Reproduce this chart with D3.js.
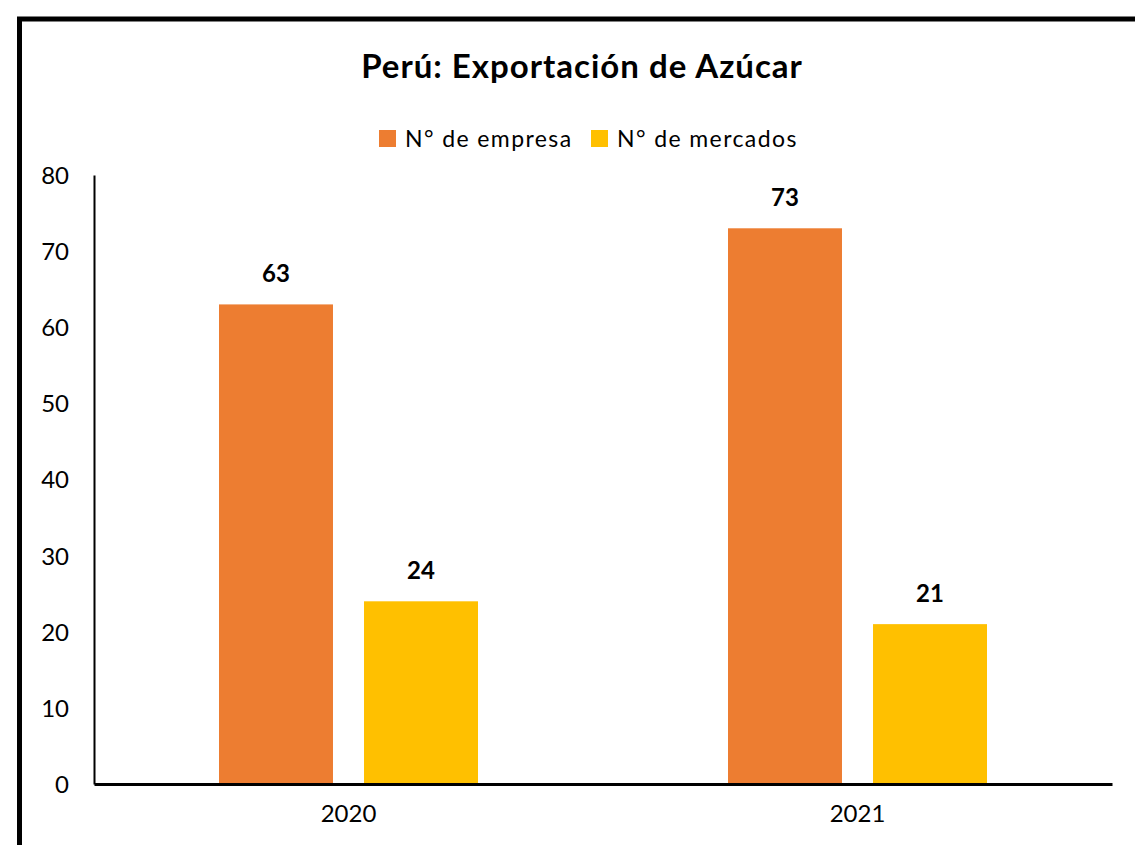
<!DOCTYPE html>
<html>
<head>
<meta charset="utf-8">
<style>
body { margin: 0; background: #fff; }
svg { display: block; font-family: Lato, "Open Sans", sans-serif; }
.axis .domain { stroke: #000; }
.axis text { font-size: 24px; fill: #000; font-family: Lato, "Open Sans", sans-serif; }
</style>
</head>
<body>
<svg width="1135" height="845"></svg>
<script src="https://cdn.jsdelivr.net/npm/d3@7"></script>
<script>
var years = ["2020", "2021"];
var seriesNames = ["N° de empresa", "N° de mercados"];
var empresas = [63, 73];
var mercados = [24, 21];
var yTicks = [0, 10, 20, 30, 40, 50, 60, 70, 80];
var colors = ["#ED7D31", "#FFC000"];

var svg = d3.select("svg"),
    margin = {top: 175, right: 23, bottom: 61, left: 94},
    width = +svg.attr("width") - margin.left - margin.right,
    height = +svg.attr("height") - margin.top - margin.bottom;

// outer frame, runs off the right and bottom edge
svg.append("rect")
    .attr("x", 19.5).attr("y", 19)
    .attr("width", 1200).attr("height", 900)
    .attr("fill", "none")
    .attr("stroke", "#000")
    .attr("stroke-width", 5);

var g = svg.append("g").attr("transform", "translate(" + margin.left + "," + margin.top + ")");

var rows = years.map(function(y, i) {
  return {year: y, values: [empresas[i], mercados[i]]};
});

var groupW = 259;
var x0 = d3.scaleBand().domain(years).range([0, width]);
var x1 = d3.scaleBand().domain([0, 1]).range([0, groupW]).paddingInner(0.214);
var y = d3.scaleLinear().domain([0, 80]).range([height, 0]);

var groups = g.selectAll("g.grp")
  .data(rows)
  .enter().append("g")
    .attr("class", "grp")
    .attr("transform", function(d) { return "translate(" + (x0(d.year) + (x0.bandwidth() - groupW) / 2) + ",0)"; });

groups.selectAll("rect")
  .data(function(d) { return d.values.map(function(v, k) { return {k: k, value: v}; }); })
  .enter().append("rect")
    .attr("x", function(d) { return x1(d.k); })
    .attr("y", function(d) { return y(d.value); })
    .attr("width", x1.bandwidth())
    .attr("height", function(d) { return height - y(d.value); })
    .attr("fill", function(d) { return colors[d.k]; });

groups.selectAll("text")
  .data(function(d) { return d.values.map(function(v, k) { return {k: k, value: v}; }); })
  .enter().append("text")
    .attr("x", function(d) { return x1(d.k) + x1.bandwidth() / 2; })
    .attr("y", function(d) { return y(d.value) - 22; })
    .attr("text-anchor", "middle")
    .attr("font-size", "24px")
    .attr("font-weight", "bold")
    .text(function(d) { return d.value; });

g.append("g")
    .attr("class", "axis")
    .call(d3.axisLeft(y).tickValues(yTicks).tickSize(0).tickPadding(25))
    .call(function(a) { a.select(".domain").attr("stroke-width", 2); })
    .selectAll("text").attr("dy", "0.35em");

g.append("g")
    .attr("class", "axis")
    .attr("transform", "translate(0," + height + ")")
    .call(d3.axisBottom(x0).tickSize(0).tickPadding(30))
    .call(function(a) { a.select(".domain").attr("stroke-width", 3); })
    .selectAll("text").attr("dy", "0.35em");

svg.append("text")
    .attr("x", 582).attr("y", 78)
    .attr("text-anchor", "middle")
    .attr("font-size", "33px")
    .attr("font-weight", "bold")
    .attr("letter-spacing", "1px")
    .text("Perú: Exportación de Azúcar");

var legendX = [379, 591];
var legend = svg.selectAll("g.leg")
  .data(seriesNames)
  .enter().append("g")
    .attr("class", "leg")
    .attr("transform", function(d, i) { return "translate(" + legendX[i] + ",130)"; });
legend.append("rect")
    .attr("width", 17).attr("height", 17)
    .attr("fill", function(d, i) { return colors[i]; });
legend.append("text")
    .attr("x", 26).attr("y", 8.5).attr("dy", "0.35em")
    .attr("font-size", "23px")
    .attr("letter-spacing", "1.4px")
    .text(function(d) { return d; });
</script>
</body>
</html>
